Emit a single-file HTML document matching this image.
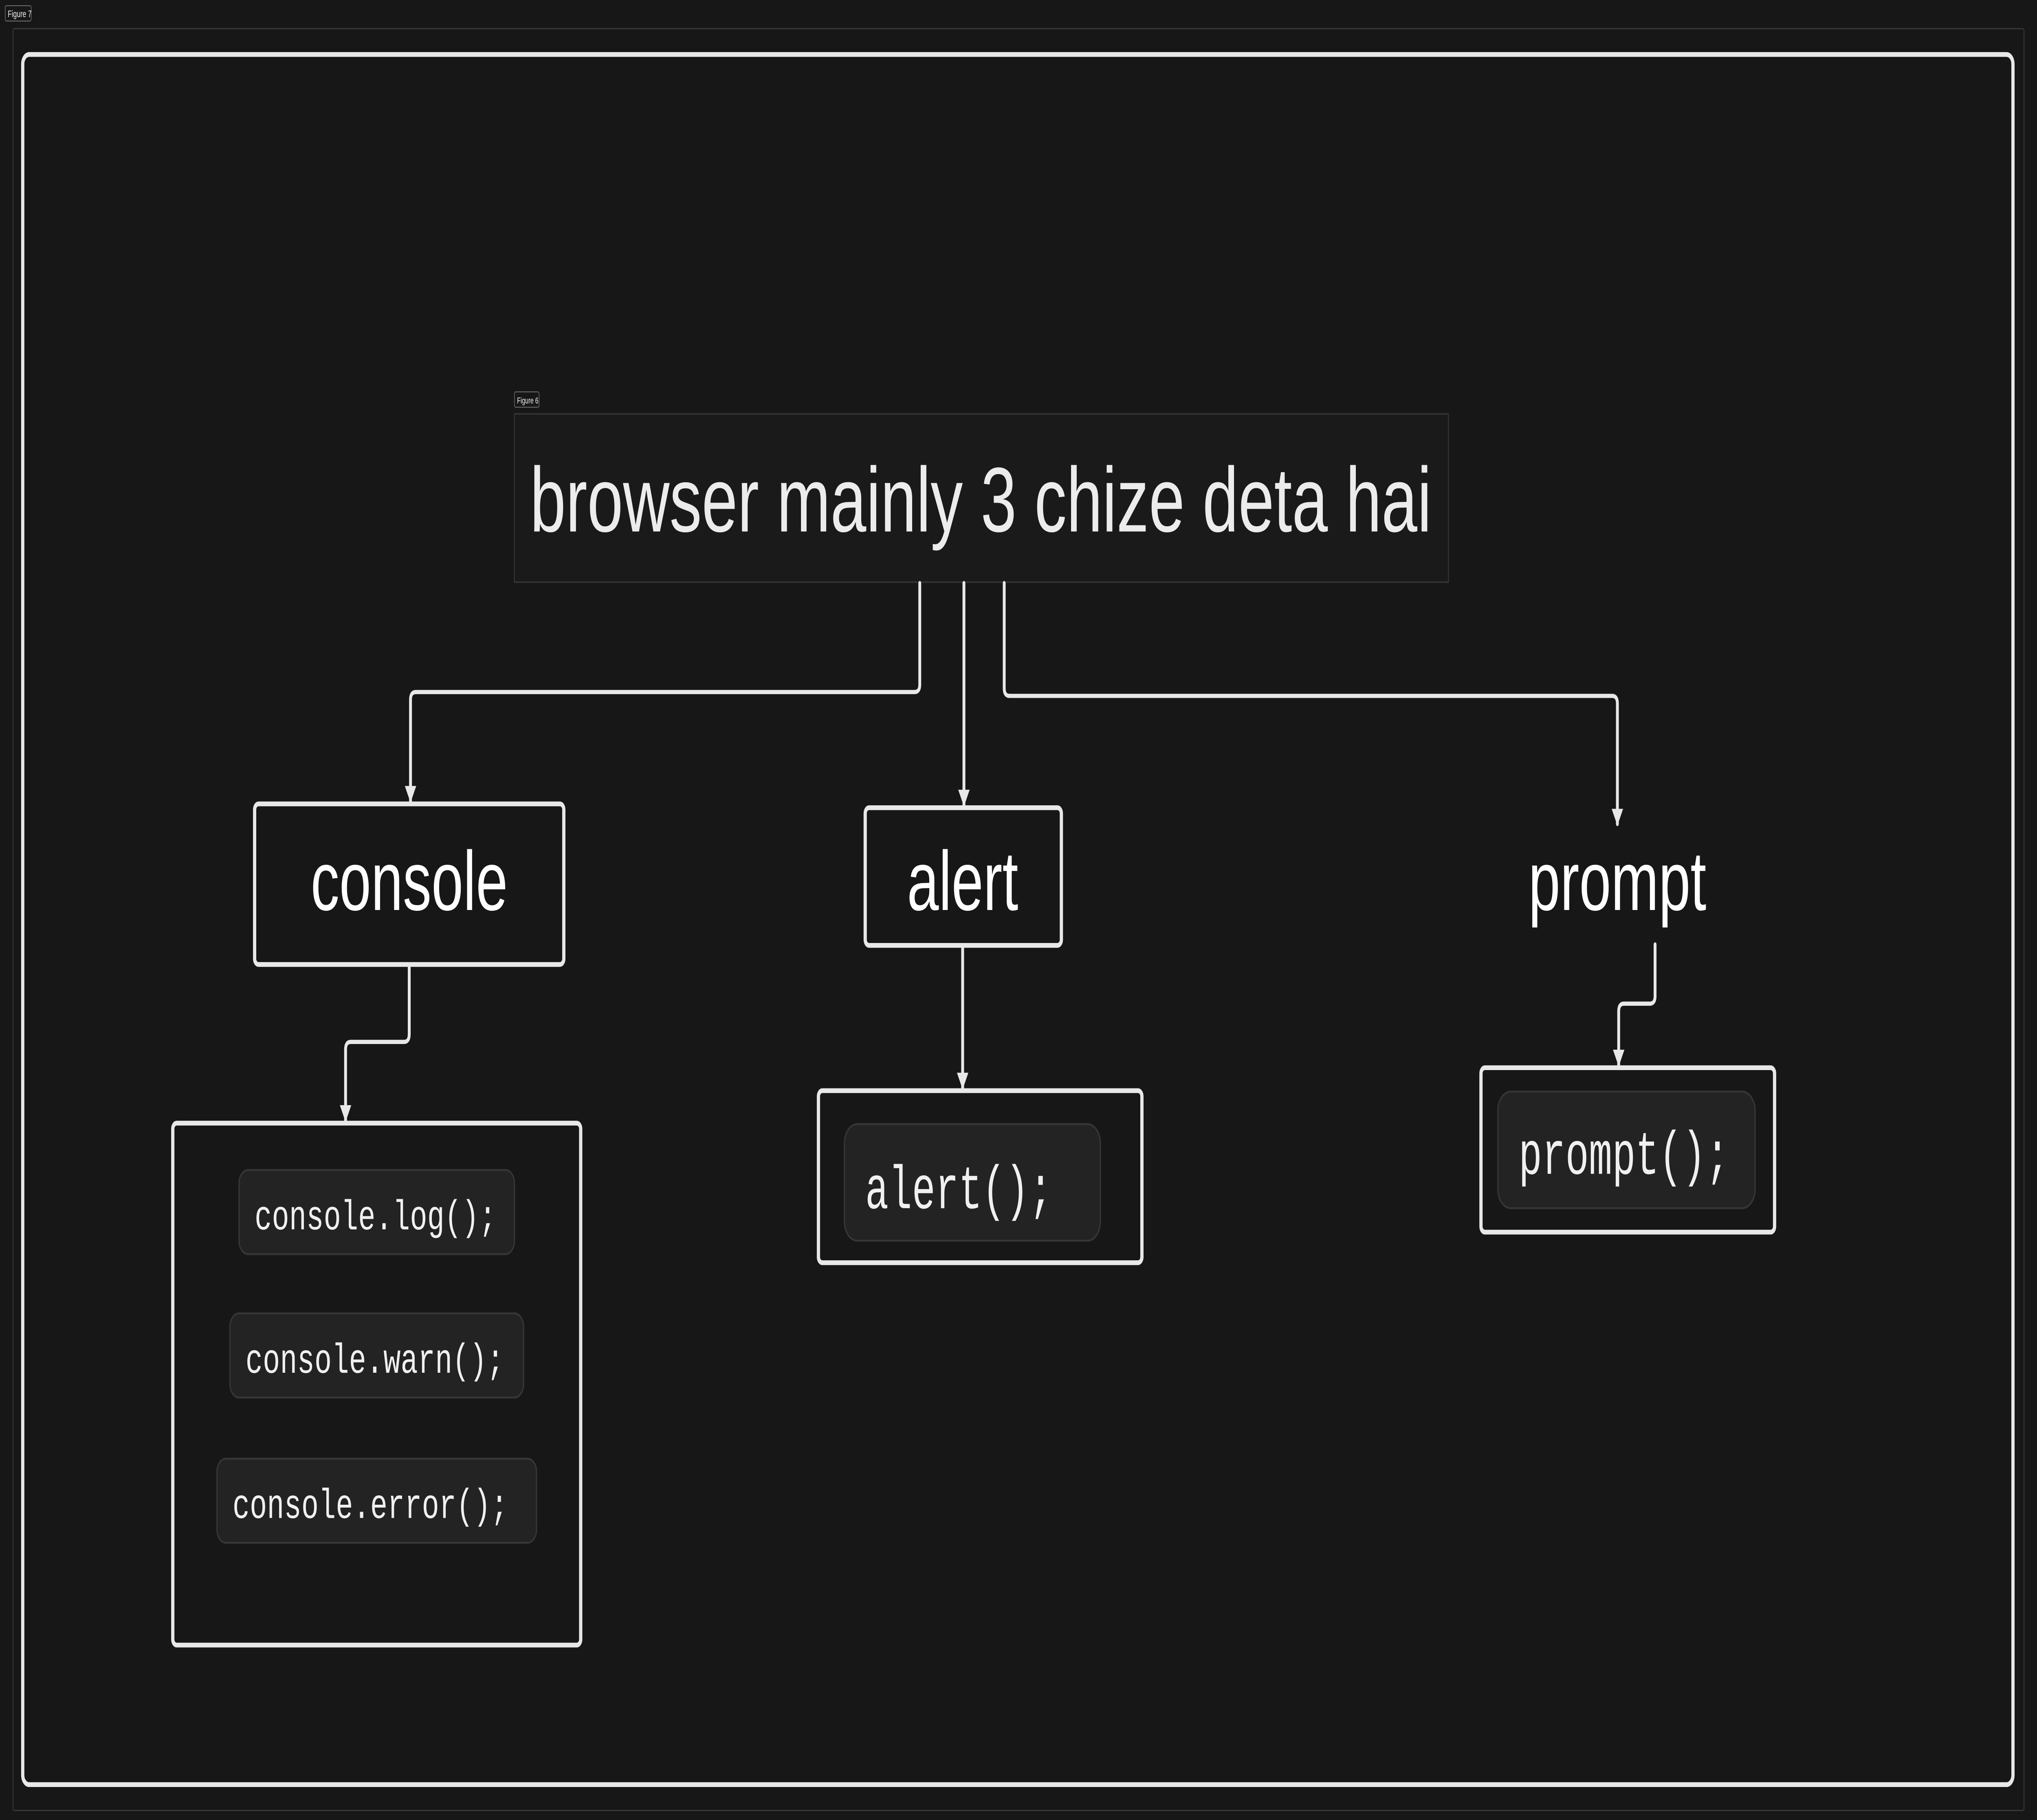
<!DOCTYPE html>
<html><head><meta charset="utf-8"><style>
html,body{margin:0;padding:0;background:#171717;overflow:hidden;width:100%;height:100%;}
svg{display:block;position:fixed;left:0;top:0;width:100vw;height:100vh;}
</style></head><body>
<svg viewBox="0 0 1568 952" preserveAspectRatio="none" xmlns="http://www.w3.org/2000/svg">
<defs>
<marker id="a" viewBox="0 0 10 10" refX="9" refY="5" markerWidth="4" markerHeight="4" orient="auto-start-reverse">
<path d="M0,0 L10,5 L0,10 z" fill="#e8e8e8"/></marker>
</defs>
<rect width="1568" height="952" fill="#171717"/>
<rect x="4" y="3" width="20" height="8" rx="1" fill="none" stroke="#777" stroke-width="0.4"/>
<text x="6" y="9" font-family="Liberation Sans, sans-serif" font-size="5" fill="#eee">Figure 7</text>
<rect x="10" y="15" width="1548" height="932" rx="1" fill="none" stroke="#3a3a3a" stroke-width="0.6"/>
<rect x="17.5" y="28.5" width="1532" height="905" rx="5" fill="none" stroke="#e8e8e8" stroke-width="2.5"/>

<rect x="396" y="205" width="19" height="8" rx="1" fill="none" stroke="#777" stroke-width="0.4"/>
<text x="398" y="211" font-family="Liberation Sans, sans-serif" font-size="4.5" fill="#eee">Figure 6</text>
<rect x="396" y="216.5" width="719" height="88" fill="#1a1a1a" stroke="#333" stroke-width="0.8"/>
<text x="408" y="278" font-family="Liberation Sans, sans-serif" font-size="48" fill="#ececec" textLength="694" lengthAdjust="spacingAndGlyphs">browser mainly 3 chize deta hai</text>

<g fill="none" stroke="#e8e8e8" stroke-width="2.2" stroke-linecap="round">
<path d="M708,305 V358 Q708,362 704,362 H320 Q316,362 316,366 V419" marker-end="url(#a)"/>
<path d="M742,305 V421" marker-end="url(#a)"/>
<path d="M773,305 V360 Q773,364 777,364 H1241 Q1245,364 1245,368 V431" marker-end="url(#a)"/>
<path d="M315,505 V541 Q315,545 311,545 H270 Q266,545 266,549 V586" marker-end="url(#a)"/>
<path d="M741,495 V569" marker-end="url(#a)"/>
<path d="M1274,494 V521 Q1274,525 1270,525 H1250 Q1246,525 1246,529 V557" marker-end="url(#a)"/>
</g>

<g fill="none" stroke="#e8e8e8" stroke-width="2.5">
<rect x="196" y="420.5" width="238" height="84" rx="3"/>
<rect x="666" y="422.5" width="151" height="72" rx="3"/>
<rect x="133" y="587.5" width="314" height="273" rx="3"/>
<rect x="630" y="570.5" width="249" height="90" rx="3"/>
<rect x="1140" y="558.5" width="226" height="86" rx="3"/>
</g>
<g font-family="Liberation Sans, sans-serif" font-size="44" fill="#fff" text-anchor="middle">
<text x="315" y="476">console</text>
<text x="741" y="476">alert</text>
<text x="1245" y="476">prompt</text>
</g>

<g fill="#232323" stroke="#363636" stroke-width="1">
<rect x="184" y="612" width="212" height="44" rx="7"/>
<rect x="177" y="687" width="226" height="44" rx="7"/>
<rect x="167" y="763" width="246" height="44" rx="7"/>
<rect x="650" y="588" width="197" height="61" rx="10"/>
<rect x="1153" y="571" width="198" height="61" rx="10"/>
</g>
<g font-family="Liberation Mono, monospace" fill="#f0f0f0">
<text x="196" y="643" font-size="22" textLength="186" lengthAdjust="spacingAndGlyphs">console.log();</text>
<text x="189" y="718" font-size="22" textLength="199" lengthAdjust="spacingAndGlyphs">console.warn();</text>
<text x="179" y="794" font-size="22" textLength="212" lengthAdjust="spacingAndGlyphs">console.error();</text>
<text x="666" y="632" font-size="32" textLength="144" lengthAdjust="spacingAndGlyphs">alert();</text>
<text x="1169" y="614" font-size="32" textLength="162" lengthAdjust="spacingAndGlyphs">prompt();</text>
</g>
</svg>
</body></html>
